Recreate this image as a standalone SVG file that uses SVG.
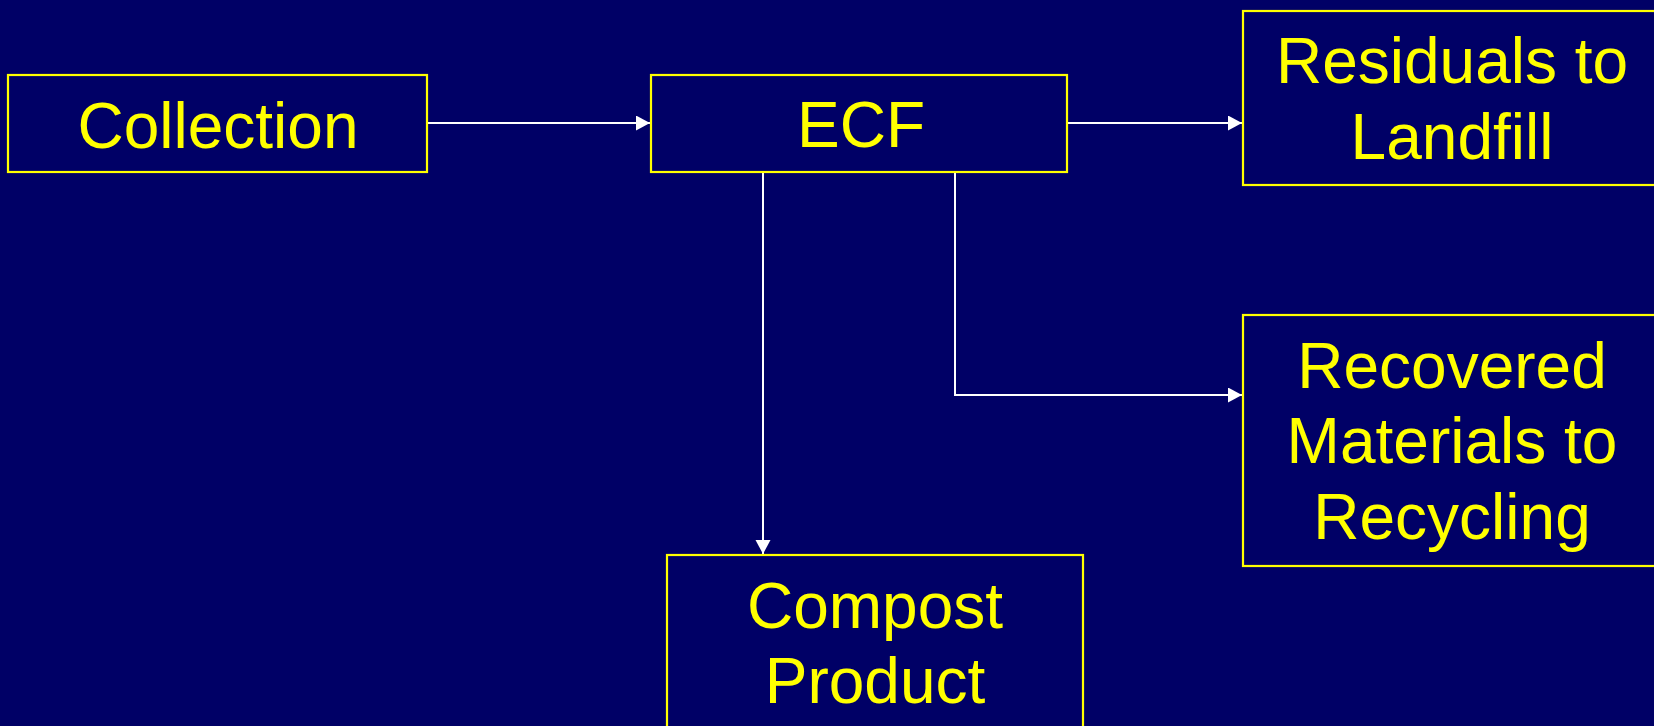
<svg xmlns="http://www.w3.org/2000/svg" width="1654" height="726" viewBox="0 0 1654 726">
  <defs>
    <style>
      .box { fill: #000066; stroke: #FFFF00; stroke-width: 2.2; }
      .lbl { fill: #FFFF00; font-family: "Liberation Sans", Arial, sans-serif; font-size: 64px; text-anchor: middle; }
      .conn { fill: none; stroke: #FFFFFF; stroke-width: 2; }
    </style>
    <marker id="arrow" markerUnits="userSpaceOnUse" markerWidth="15" markerHeight="16" refX="14" refY="7.5" orient="auto">
      <path d="M0,0 L14,7.5 L0,15 Z" fill="#FFFFFF"/>
    </marker>
  </defs>
  <rect x="0" y="0" width="1654" height="726" fill="#000066"/>

  <g id="connectors">
    <line class="conn" x1="428" y1="123" x2="650" y2="123" marker-end="url(#arrow)"/>
    <line class="conn" x1="1068" y1="123" x2="1242" y2="123" marker-end="url(#arrow)"/>
    <line class="conn" x1="763" y1="171" x2="763" y2="554" marker-end="url(#arrow)"/>
    <polyline class="conn" points="955,171 955,395 1242,395" marker-end="url(#arrow)"/>
  </g>

  <g id="collection">
    <rect class="box" x="8" y="75" width="419" height="97"/>
    <text class="lbl" x="218" y="148">Collection</text>
  </g>

  <g id="ecf">
    <rect class="box" x="651" y="75" width="416" height="97"/>
    <text class="lbl" x="861" y="147">ECF</text>
  </g>

  <g id="residuals">
    <rect class="box" x="1243" y="11" width="420" height="174"/>
    <text class="lbl" x="1452" y="83">Residuals to</text>
    <text class="lbl" x="1452" y="159">Landfill</text>
  </g>

  <g id="recovered">
    <rect class="box" x="1243" y="315" width="420" height="251"/>
    <text class="lbl" x="1452" y="388">Recovered</text>
    <text class="lbl" x="1452" y="463">Materials to</text>
    <text class="lbl" x="1452" y="539">Recycling</text>
  </g>

  <g id="compost">
    <rect class="box" x="667" y="555" width="416" height="190"/>
    <text class="lbl" x="875" y="628">Compost</text>
    <text class="lbl" x="875" y="703">Product</text>
  </g>
</svg>
